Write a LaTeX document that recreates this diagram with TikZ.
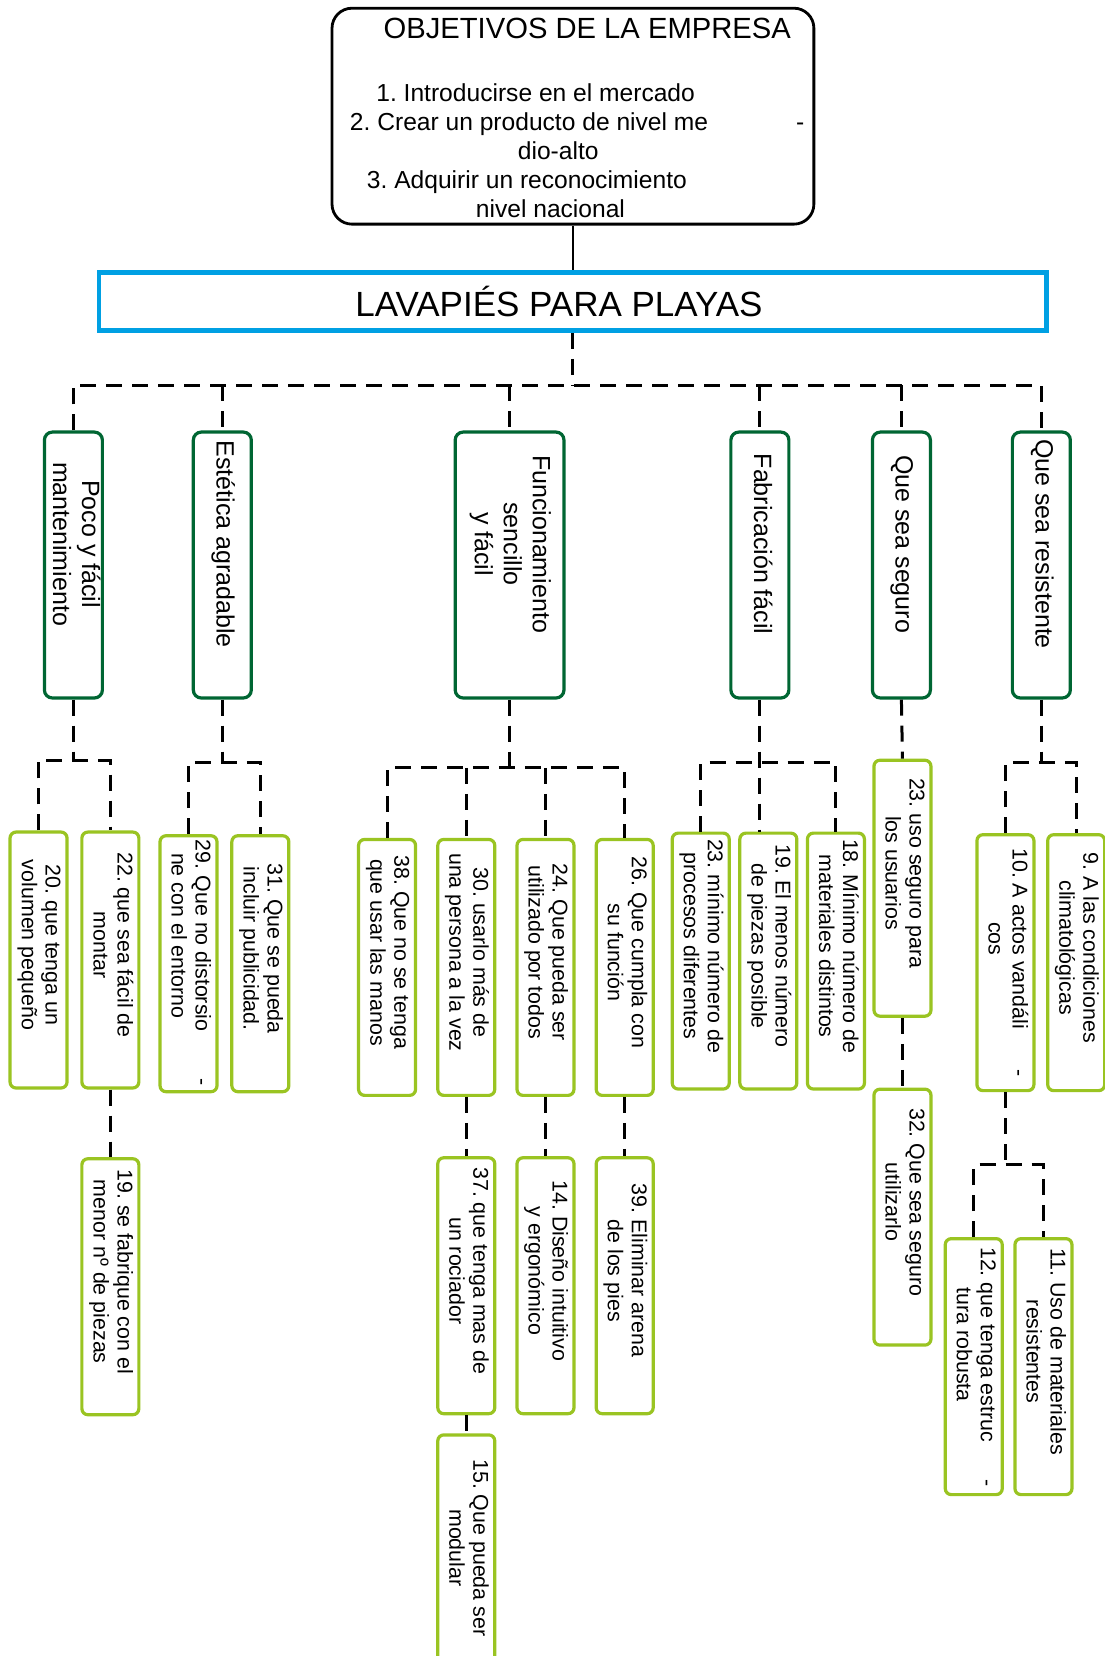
\documentclass[tikz,border=0pt]{standalone}
\usepackage{fontspec}
\setmainfont{Liberation Sans}
\usepackage{graphicx}
\usetikzlibrary{positioning}

\definecolor{lavblue}{RGB}{0,160,227}
\definecolor{catgreen}{RGB}{0,102,51}
\definecolor{itemgreen}{RGB}{154,196,34}

% vertical text, read from top to bottom
\newcommand{\vtxt}[2][15pt]{\rotatebox{-90}{\begin{tabular}{@{}c@{}}#2\end{tabular}\hspace*{#1}}}

\frenchspacing

\begin{document}
\begin{tikzpicture}[x=0.5282pt, y=-0.5282pt,
  objbox/.style={draw, line width=1.4pt, rounded corners=10pt, minimum width=241pt, minimum height=108pt},
  titlebox/.style={draw=lavblue, line width=2.4pt, minimum width=474pt, minimum height=29pt, inner sep=0pt, font=\fontsize{17.5}{20}\selectfont},
  catbox/.style={draw=catgreen, line width=1.6pt, rounded corners=4pt, minimum width=29pt, minimum height=133pt, inner sep=0pt, font=\fontsize{12.5}{14.5}\selectfont},
  itembox/.style={draw=itemgreen, line width=1.6pt, rounded corners=3pt, minimum width=28.5pt, minimum height=128pt, inner sep=0pt, font=\fontsize{10.7}{12}\selectfont},
  link/.style={line width=1.5pt, dash pattern=on 8pt off 5pt}]

  \fill[white] (0,0) rectangle (1046,1568);
  \useasboundingbox (0,0) rectangle (1046,1568);

  % objectives and product
  \node[objbox] (objetivos) at (542.5,110) {};
  \node[font=\fontsize{14.6}{17}\selectfont] (objtitle) at (556,27) {OBJETIVOS DE LA EMPRESA};
  \node[align=left, anchor=west, inner sep=0pt, font=\fontsize{12.3}{14.5}\selectfont] (objlist) at (331,142.5)
    {\hspace*{13.2pt}1. Introducirse en el mercado\\
     2. Crear un producto de nivel me\rlap{\hspace{44pt}-}\\
     \hspace*{84pt}dio-alto\\
     \hspace*{8.5pt}3. Adquirir un reconocimiento\\
     \hspace*{63pt}nivel nacional};
  \node[titlebox] (lavapies) at (542.5,285.5) {LAVAPIÉS PARA PLAYAS\hspace*{14pt}};

  % requirements
  \node[catbox] (poco) at (69.5,535) {\vtxt[21pt]{Poco y fácil\\mantenimiento}};
  \node[catbox] (estetica) at (210.5,535) {\vtxt[21pt]{Estética agradable}};
  \node[catbox, minimum width=54.4pt] (funcion) at (482.5,535) {\vtxt[21pt]{Funcionamiento\\sencillo\\y fácil}};
  \node[catbox] (fabric) at (719.5,535) {\vtxt[21pt]{Fabricación fácil}};
  \node[catbox] (seguro) at (853.5,535) {\vtxt[21pt]{Que sea seguro}};
  \node[catbox] (resist) at (986,535) {\vtxt[21pt]{Que sea resistente}};

  % specifications
  \node[itembox] (i20) at (36.5,909) {\vtxt{20. que tenga un\\volumen pequeño}};
  \node[itembox] (i22) at (104.5,909) {\vtxt{22. que sea fácil de\\montar}};
  \node[itembox, below=33.8pt of i22] (i19a) {\vtxt{19. se fabrique con el\\menor nº de piezas}};
  \node[itembox] (i29) at (178.5,912.5) {\vtxt[28pt]{29. Que no distorsio\rlap{\hspace{23.5pt}-}\\ne con el entorno}};
  \node[itembox] (i31) at (246.5,912.5) {\vtxt{31. Que se pueda\\incluir publicidad.}};
  \node[itembox] (i38) at (366.5,916) {\vtxt{38. Que no se tenga\\que usar las manos}};
  \node[itembox] (i30) at (441.5,916) {\vtxt{30. usarlo más de\\una persona a la vez}};
  \node[itembox] (i24) at (516.5,916) {\vtxt{24. Que pueda ser\\utilizado por todos}};
  \node[itembox] (i26) at (591.5,916) {\vtxt{26. Que cumpla con\\su función}};
  \node[itembox, below=29.6pt of i30] (i37) {\vtxt{37. que tenga mas de\\un rociador}};
  \node[itembox, below=29.6pt of i24] (i14) {\vtxt{14. Diseño intuitivo\\y ergonómico}};
  \node[itembox, below=29.6pt of i26] (i39) {\vtxt{39. Eliminar arena\\de los pies}};
  \node[itembox, below=9pt of i37] (i15) {\vtxt{15. Que pueda ser\\modular}};
  \node[itembox] (i23a) at (663.5,910) {\vtxt{23. mínimo número de\\procesos diferentes}};
  \node[itembox] (i19b) at (727.5,910) {\vtxt{19. El menos número\\de piezas posible}};
  \node[itembox] (i18) at (791.5,910) {\vtxt{18. Mínimo número de\\materiales distintos}};
  \node[itembox] (i23b) at (854.5,841) {\vtxt{23. uso seguro para\\los usuarios}};
  \node[itembox, below=34.9pt of i23b] (i32) {\vtxt{32. Que sea seguro\\utilizarlo}};
  \node[itembox] (i10) at (952,911.5) {\vtxt[24pt]{10. A actos vandáli\rlap{\hspace{20.3pt}-}\\cos}};
  \node[itembox] (i9) at (1019,911.5) {\vtxt{9. A las condiciones\\climatológicas}};
  \node[itembox] (i12) at (922,1294) {\vtxt[22pt]{12. que tenga estruc\rlap{\hspace{18.7pt}-}\\tura robusta}};
  \node[itembox] (i11) at (988,1294) {\vtxt{11. Uso de materiales\\resistentes}};

  % connectors
  \draw[line width=1.4pt] (objetivos.south) -- (lavapies.north);
  \draw[link] (lavapies.south) -- (lavapies.south |- 0,365);
  \draw[link] (poco.north) -- (poco.north |- 0,365) -- (resist.north |- 0,365) -- (resist.north);
  \foreach \n in {estetica,funcion,fabric,seguro}
    \draw[link] (\n.north |- 0,365) -- (\n.north);

  \draw[link] (poco.south) -- (poco.south |- 0,720);
  \draw[link] (i20.north) -- (i20.north |- 0,720) -- (i22.north |- 0,720) -- (i22.north);
  \draw[link] (i22.south) -- (i19a.north);

  \draw[link] (estetica.south) -- (estetica.south |- 0,722);
  \draw[link] (i29.north) -- (i29.north |- 0,722) -- (i31.north |- 0,722) -- (i31.north);

  \draw[link] (funcion.south) -- (funcion.south |- 0,727);
  \draw[link] (i38.north) -- (i38.north |- 0,727) -- (i26.north |- 0,727) -- (i26.north);
  \foreach \n in {i30,i24}
    \draw[link] (\n.north |- 0,727) -- (\n.north);
  \draw[link] (i30.south) -- (i37.north);
  \draw[link] (i24.south) -- (i14.north);
  \draw[link] (i26.south) -- (i39.north);
  \draw[link] (i37.south) -- (i15.north);

  \draw[link] (fabric.south) -- (fabric.south |- i19b.north);
  \draw[link] (i23a.north) -- (i23a.north |- 0,722) -- (i18.north |- 0,722) -- (i18.north);

  \draw[link] (seguro.south) -- (i23b.north);
  \draw[link] (i23b.south) -- (i32.north);

  \draw[link] (resist.south) -- (resist.south |- 0,722);
  \draw[link] (i10.north) -- (i10.north |- 0,722) -- (i9.north |- 0,722) -- (i9.north);
  \draw[link] (i10.south) -- (i10.south |- 0,1103);
  \draw[link] (i12.north) -- (i12.north |- 0,1103) -- (i11.north |- 0,1103) -- (i11.north);
\end{tikzpicture}
\end{document}
